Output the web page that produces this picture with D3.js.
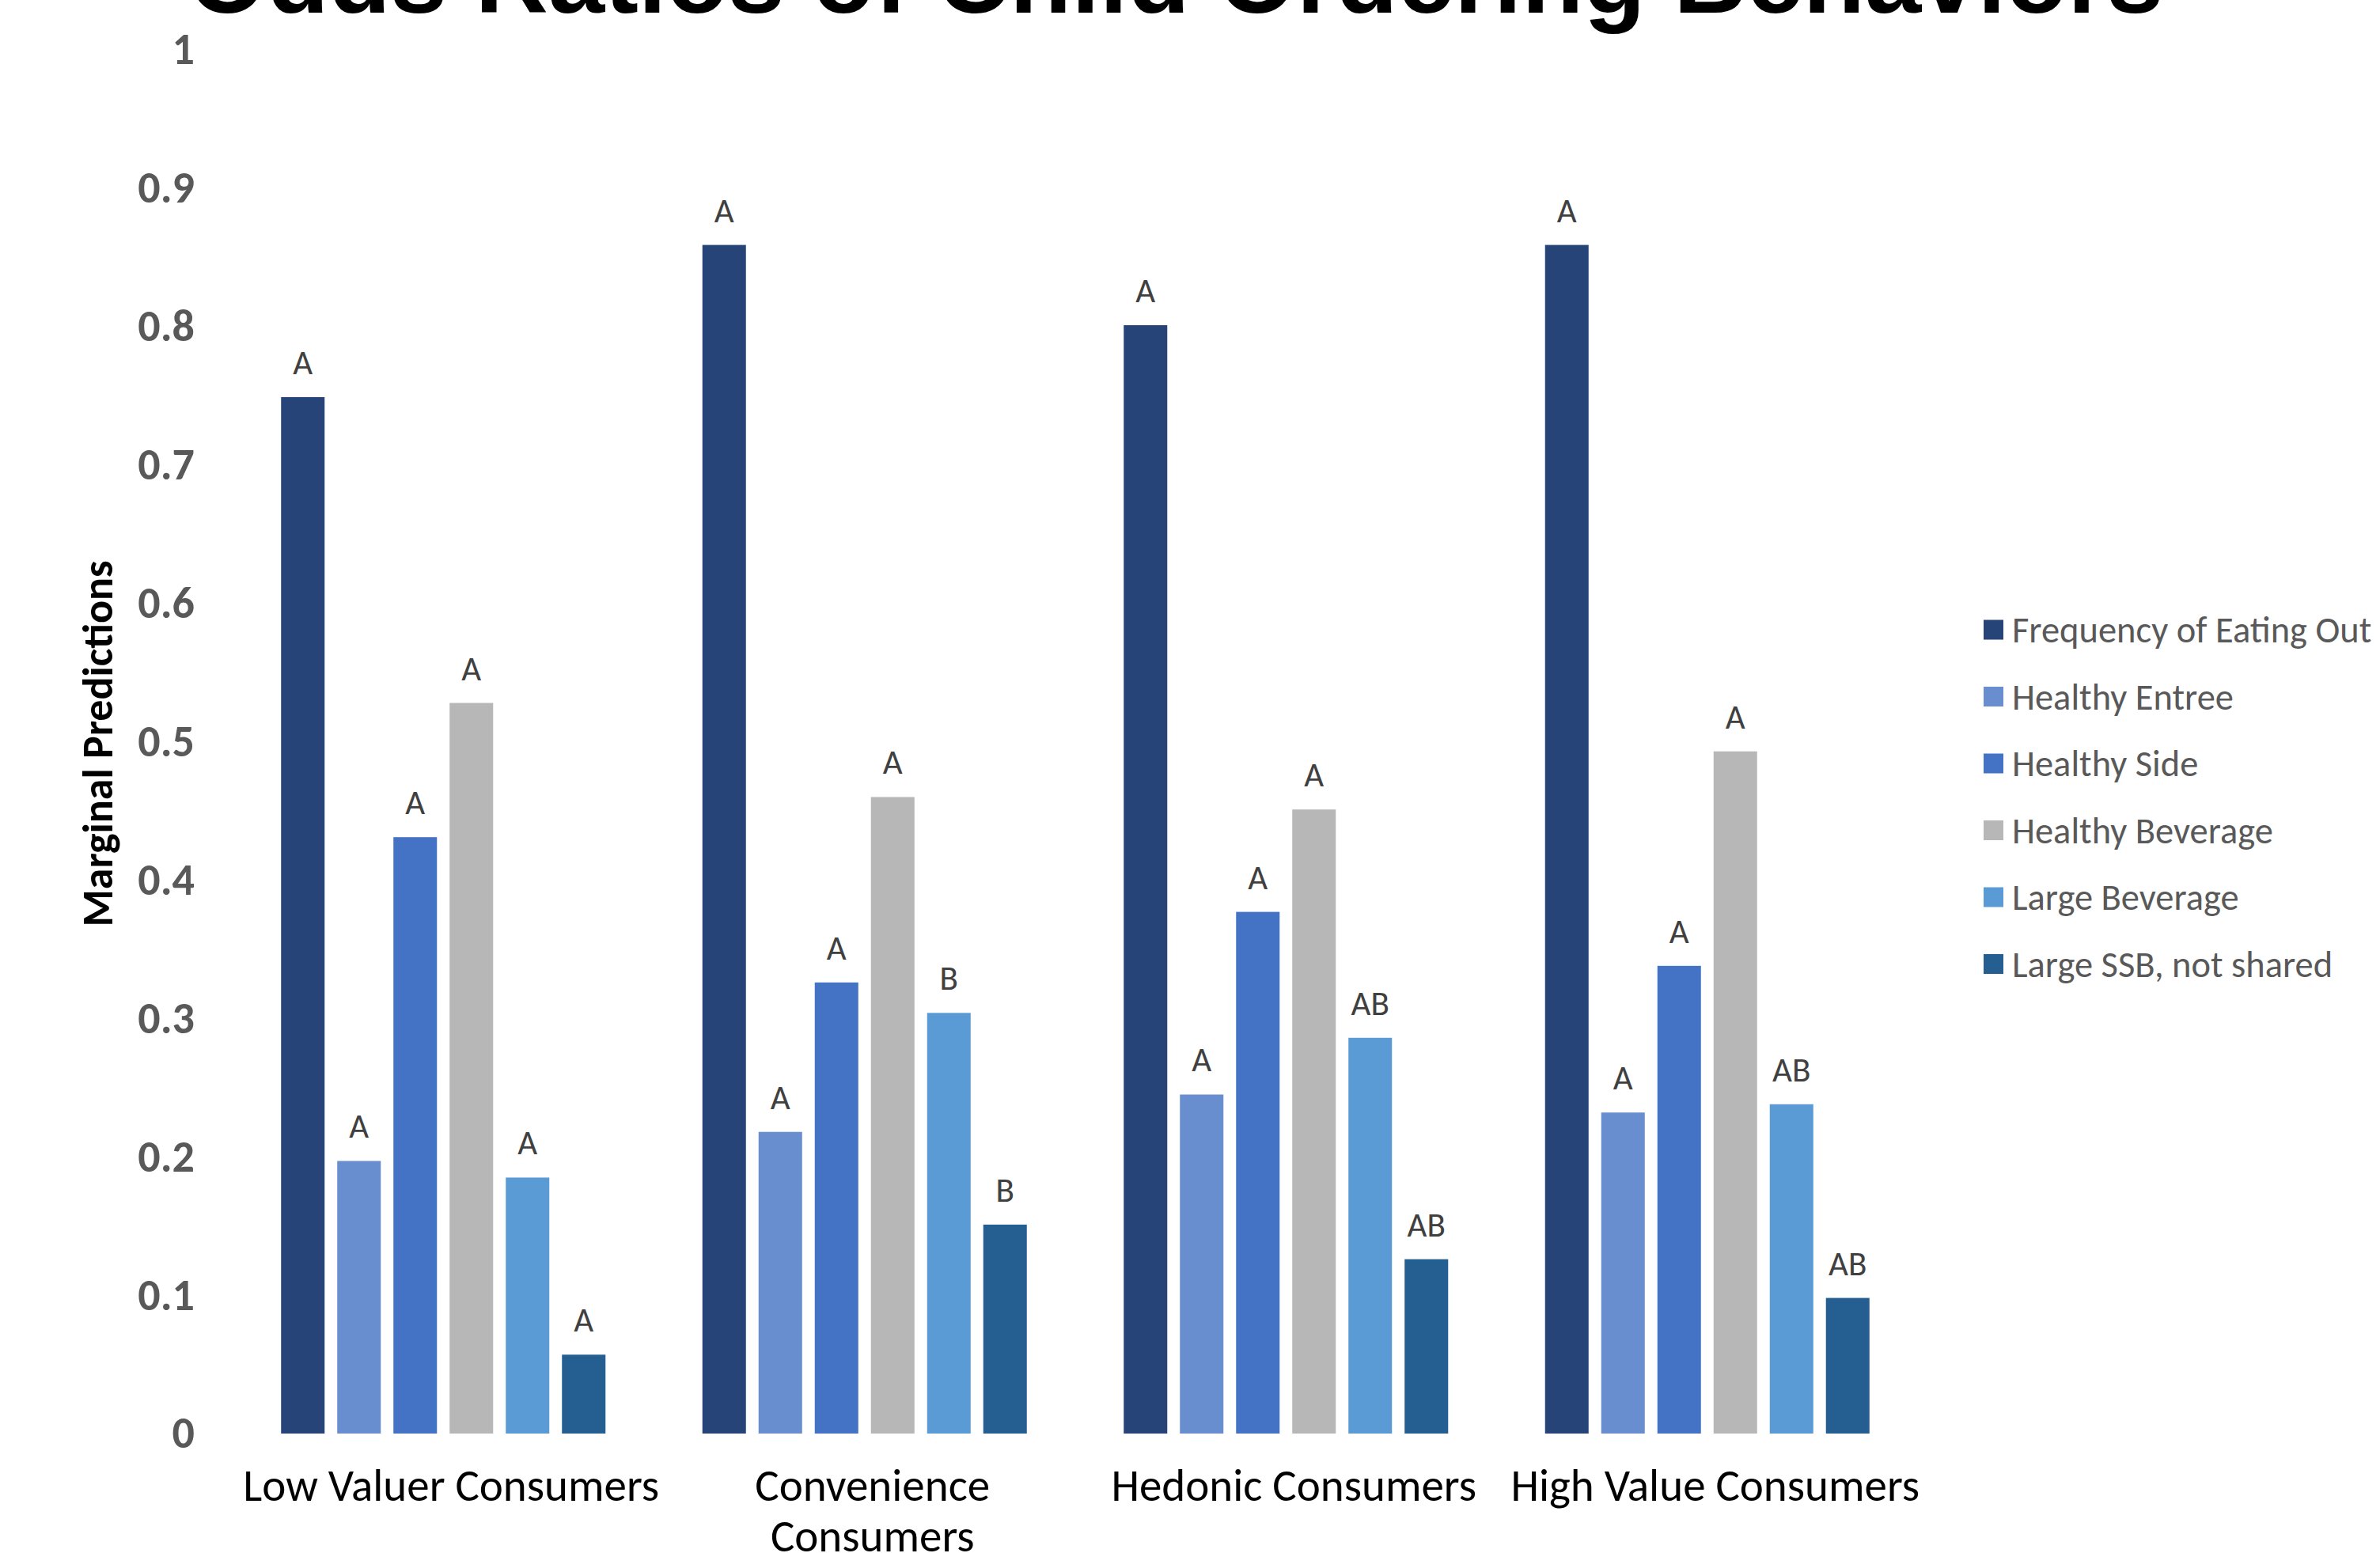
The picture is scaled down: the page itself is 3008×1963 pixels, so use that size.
<!DOCTYPE html>
<html>
<head>
<meta charset="utf-8">
<script src="https://d3js.org/d3.v7.min.js"></script>
<style>
  body { margin: 0; background: #fff; overflow: hidden; }
</style>
</head>
<body>
<svg id="chart"></svg>
<script>
// Kategori dan seri
const categories = ["Low Valuer Consumers", "Convenience Consumers", "Hedonic Consumers", "High Value Consumers"];
const seriesNames = ["Frequency of Eating Out", "Healthy Entree", "Healthy Side", "Healthy Beverage", "Large Beverage", "Large SSB, not shared"];
const seriesColors = ["#264478", "#698ED0", "#4472C4", "#B7B7B7", "#5B9BD5", "#255E91"];

// Nilai tiap seri (satu per kategori)
const freqEatingOut   = [0.749, 0.859, 0.801, 0.859];
const healthyEntree   = [0.197, 0.218, 0.245, 0.232];
const healthySide     = [0.431, 0.326, 0.377, 0.338];
const healthyBeverage = [0.528, 0.460, 0.451, 0.493];
const largeBeverage   = [0.185, 0.304, 0.286, 0.238];
const largeSSB        = [0.057, 0.151, 0.126, 0.098];

// Huruf signifikansi di atas batang
const freqLetters     = ["A", "A", "A", "A"];
const entreeLetters   = ["A", "A", "A", "A"];
const sideLetters     = ["A", "A", "A", "A"];
const beverageLetters = ["A", "A", "A", "A"];
const largeBevLetters = ["A", "B", "AB", "AB"];
const ssbLetters      = ["A", "B", "AB", "AB"];

const yTicks = [0, 0.1, 0.2, 0.3, 0.4, 0.5, 0.6, 0.7, 0.8, 0.9, 1];
const yTickLabels = ["0", "0.1", "0.2", "0.3", "0.4", "0.5", "0.6", "0.7", "0.8", "0.9", "1"];

const seriesValues = [freqEatingOut, healthyEntree, healthySide, healthyBeverage, largeBeverage, largeSSB];
const seriesLetters = [freqLetters, entreeLetters, sideLetters, beverageLetters, largeBevLetters, ssbLetters];

// Bentuk data untuk d3
const data = categories.map((c, ci) => ({
  category: c,
  bars: seriesNames.map((s, si) => ({ series: s, value: seriesValues[si][ci], letter: seriesLetters[si][ci] }))
}));

const width = 3008, height = 1963;
const svg = d3.select("#chart").attr("width", width).attr("height", height);

const calibri = "Carlito, Calibri, Lato, 'Open Sans', sans-serif";

// Skala
const y = d3.scaleLinear().domain([0, 1]).range([1812, 63]);
const x0 = d3.scaleBand().domain(categories).range([294, 2424]).paddingInner(0.23).paddingOuter(0.115);
const x1 = d3.scaleBand().domain(seriesNames).range([0, x0.bandwidth()]).paddingInner(0.225).paddingOuter(0);
const color = d3.scaleOrdinal().domain(seriesNames).range(seriesColors);

// Judul (terpotong di atas seperti gambar asli)
svg.append("text")
  .attr("x", 1486)
  .attr("y", 16)
  .attr("text-anchor", "middle")
  .attr("font-family", "'Liberation Sans', Arial, sans-serif")
  .attr("font-weight", "bold")
  .attr("font-size", "128px")
  .attr("fill", "#000")
  .text("Odds Ratios of Child Ordering Behaviors");

// Sumbu Y (hanya label)
const yAxis = d3.axisLeft(y).tickValues(yTicks).tickFormat((d, i) => yTickLabels[i]).tickSize(0).tickPadding(0);
const yg = svg.append("g").attr("transform", "translate(246,0)").call(yAxis);
yg.select(".domain").remove();
yg.selectAll("text")
  .attr("font-family", calibri)
  .attr("font-weight", "bold")
  .attr("font-size", "56px")
  .attr("fill", "#595959");

// Judul sumbu Y
svg.append("text")
  .attr("transform", "translate(142,940) rotate(-90)")
  .attr("text-anchor", "middle")
  .attr("font-family", calibri)
  .attr("font-weight", "bold")
  .attr("font-size", "54px")
  .attr("fill", "#000")
  .text("Marginal Predictions");

// Batang
const groups = svg.selectAll("g.group")
  .data(data)
  .enter()
  .append("g")
  .attr("class", "group")
  .attr("transform", d => `translate(${x0(d.category)},0)`);

groups.selectAll("rect")
  .data(d => d.bars)
  .enter()
  .append("rect")
  .attr("x", d => x1(d.series))
  .attr("y", d => y(d.value))
  .attr("width", x1.bandwidth())
  .attr("height", d => y(0) - y(d.value))
  .attr("fill", d => color(d.series));

groups.selectAll("text")
  .data(d => d.bars)
  .enter()
  .append("text")
  .attr("x", d => x1(d.series) + x1.bandwidth() / 2)
  .attr("y", d => y(d.value) - 29)
  .attr("text-anchor", "middle")
  .attr("font-family", calibri)
  .attr("font-size", "43px")
  .attr("fill", "#404040")
  .text(d => d.letter);

// Label kategori sumbu X (dibungkus jika terlalu panjang)
const maxLabelWidth = 545;
const xLabels = svg.selectAll("text.xlabel")
  .data(categories)
  .enter()
  .append("text")
  .attr("class", "xlabel")
  .attr("x", d => x0(d) + x0.bandwidth() / 2 + 10)
  .attr("y", 1897)
  .attr("text-anchor", "middle")
  .attr("font-family", calibri)
  .attr("font-size", "57px")
  .attr("fill", "#000")
  .text(d => d);

xLabels.each(function(d) {
  const t = d3.select(this);
  if (this.getComputedTextLength() > maxLabelWidth) {
    const words = d.split(" ");
    const cx = t.attr("x");
    t.text(null);
    t.append("tspan").attr("x", cx).attr("dy", 0).text(words.slice(0, -1).join(" "));
    t.append("tspan").attr("x", cx).attr("dy", 64).text(words[words.length - 1]);
  }
});

// Legenda
const legend = svg.append("g").attr("transform", "translate(2507,796)");
const legendItems = legend.selectAll("g")
  .data(seriesNames)
  .enter()
  .append("g")
  .attr("transform", (d, i) => `translate(0,${i * 84.5})`);

legendItems.append("rect")
  .attr("x", 0)
  .attr("y", -12.5)
  .attr("width", 25)
  .attr("height", 25)
  .attr("fill", d => color(d));

legendItems.append("text")
  .attr("x", 36)
  .attr("y", 0)
  .attr("dy", "0.35em")
  .attr("font-family", calibri)
  .attr("font-size", "46.5px")
  .attr("fill", "#595959")
  .text(d => d);
</script>
</body>
</html>
